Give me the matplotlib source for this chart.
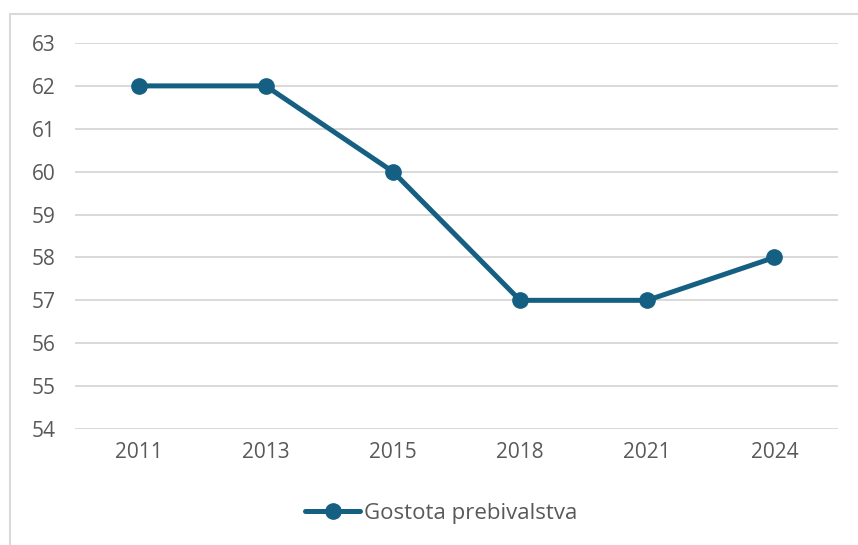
import matplotlib.pyplot as plt
from matplotlib.patches import Rectangle

# podatki
leta = ['2011', '2013', '2015', '2018', '2021', '2024']
gostota = [62, 62, 60, 57, 57, 58]
y_ticks = list(range(54, 64))

barva = '#156082'
siva = '#595959'

plt.rcParams['font.family'] = ['Open Sans', 'DejaVu Sans']

fig = plt.figure(figsize=(8.58, 5.45), dpi=100)
ax = fig.add_axes([75 / 858, 1 - 429 / 545, (838 - 75) / 858, (429 - 43) / 545])

# okvir grafa (desni in spodnji rob sta odrezana)
fig.patches.append(Rectangle((10 / 858, -0.1), 1.2, 1 - 14 / 545 + 0.1,
                             transform=fig.transFigure, fill=False,
                             edgecolor='#d9d9d9', linewidth=1.5))

xs = range(len(leta))
ax.plot(xs, gostota, '-o', color=barva, linewidth=3.6, markersize=11,
        label='Gostota prebivalstva', solid_capstyle='round')

ax.set_xlim(-0.5, len(leta) - 0.5)
ax.set_ylim(54, 63)
ax.set_yticks(y_ticks)
ax.set_xticks(list(xs))
ax.set_xticklabels(leta)
ax.yaxis.grid(True, color='#d9d9d9', linewidth=1.4)
ax.set_axisbelow(True)
for s in ax.spines.values():
    s.set_visible(False)
ax.tick_params(length=0, labelsize=15, labelcolor=siva)
ax.tick_params(axis='y', pad=14)
ax.tick_params(axis='x', pad=9)

fig.legend(loc='center', bbox_to_anchor=(441 / 858, 1 - 513 / 545), frameon=False,
           fontsize=16, labelcolor=siva, handlelength=2.5, handletextpad=0.15)

fig.savefig('out.png', dpi=100)
